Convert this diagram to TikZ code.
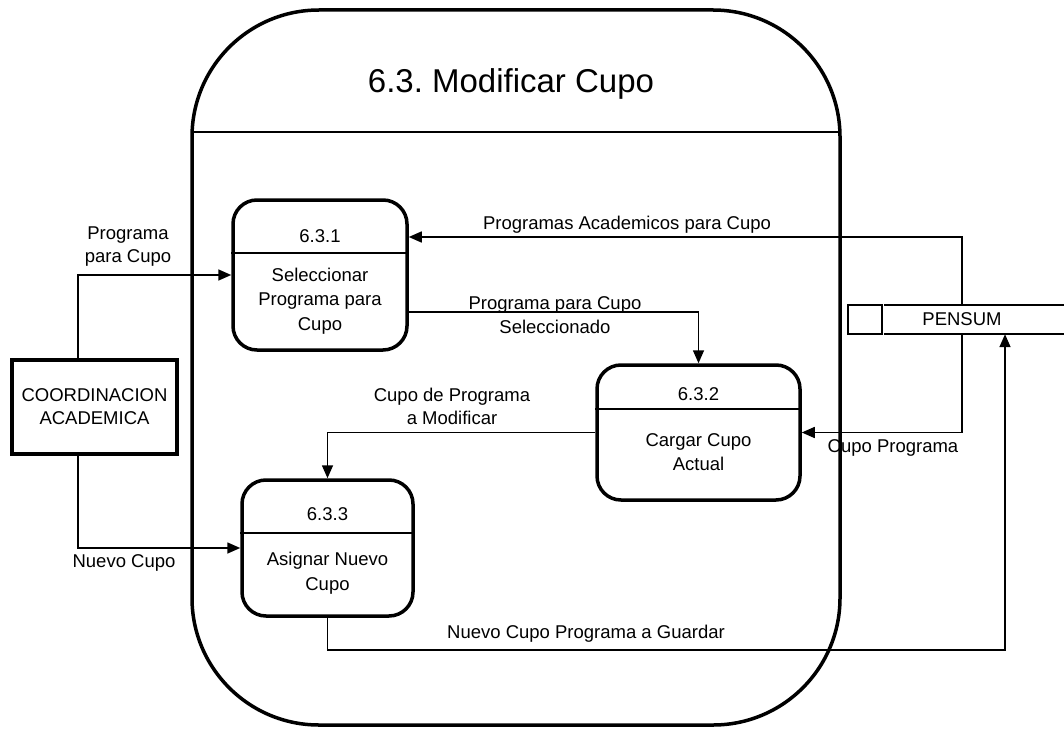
\documentclass[tikz,border=0pt]{standalone}
\usepackage{fontspec}
\setmainfont{Liberation Sans}
\usetikzlibrary{arrows.meta}
\frenchspacing
\tikzset{
  proc/.style={draw, line width=3.5pt, rounded corners=24pt, inner sep=0pt},
  ext/.style={draw, line width=3.5pt, inner sep=0pt, align=center, font=\fontsize{18.5}{23}\selectfont},
  lbl/.style={inner sep=0pt, align=center, font=\fontsize{18.5}{23.5}\selectfont},
  ptext/.style={inner sep=0pt, align=center, font=\fontsize{18.5}{24.5}\selectfont},
  flow/.style={line width=1.6pt, -{Triangle[length=13pt,width=11pt]}},
  thin/.style={line width=1.6pt},
  frame/.style={line width=3.5pt, rounded corners=127pt}
}
\begin{document}
\begin{tikzpicture}[x=1pt,y=-1pt]
\useasboundingbox[fill=white] (0,0) rectangle (1064,730);
% big process frame
\draw[frame] (192,10) rectangle (840,725);
\coordinate (tl) at (192,132);
\coordinate (tr) at (840,132);
\draw[thin] (tl) -- (tr);
\node[font=\fontsize{33}{38}\selectfont, inner sep=0pt] (title) at (511,84) {6.3. Modificar Cupo};

% processes
\node[proc, minimum width=174pt, minimum height=150pt] (p1) at (320,275) {};
\node[proc, minimum width=203pt, minimum height=135pt] (p2) at (698.5,432.5) {};
\node[proc, minimum width=171pt, minimum height=136pt] (p3) at (327.5,548) {};

\path (p1.north west) ++(0,54.75) coordinate (p1a);
\draw[thin] (p1a) -- (p1a -| p1.east);
\path (p2.north west) ++(0,45.75) coordinate (p2a);
\draw[thin] (p2a) -- (p2a -| p2.east);
\path (p3.north west) ++(0,54.75) coordinate (p3a);
\draw[thin] (p3a) -- (p3a -| p3.east);

\node[ptext] (p1n) at (320,236) {6.3.1};
\node[ptext] (p1t) at (320,301) {Seleccionar\\Programa para\\Cupo};
\node[ptext] (p2n) at (698.5,394) {6.3.2};
\node[ptext] (p2t) at (698.5,452) {Cargar Cupo\\Actual};
\node[ptext] (p3n) at (327.5,514) {6.3.3};
\node[ptext] (p3t) at (327.5,573) {Asignar Nuevo\\Cupo};

% external entity
\node[ext, minimum width=165pt, minimum height=94pt] (coord) at (94.5,407) {COORDINACION\\ACADEMICA};

% data store
\node[lbl, minimum height=29pt] (pensum) at (962,319.5) {PENSUM};
\node[draw, thin, minimum width=34pt, minimum height=29pt, inner sep=0pt] (pbox) at (865,319.5) {};
\coordinate (st1) at (884,305);
\coordinate (st2) at (1064,305);
\coordinate (sb1) at (884,334);
\coordinate (sb2) at (1064,334);
\draw[thin] (st1) -- (st2);
\draw[thin] (sb1) -- (sb2);

% flows
\draw[flow] ([xshift=-16.5pt]coord.north) |- (p1.west);
\draw[flow] ([xshift=-16.5pt]coord.south) |- (p3.west);
\draw[flow] ([yshift=-37pt]p1.east) -| (p2.north);
\draw[flow] (p2.west) -| (p3.north);
\draw[flow] (pensum.north) |- ([yshift=38pt]p1.east);
\draw[flow] (pensum.south) |- (p2.east);
\draw[flow] (p3.south) -- ++(0,32) -| ([xshift=43pt]pensum.south);

% flow labels
\node[lbl] (l1) at (128,246.5) {Programa\\para Cupo};
\node[lbl] (l2) at (627,225) {Programas Academicos para Cupo};
\node[lbl] (l3) at (555,315) {Programa para Cupo\\Seleccionado};
\node[lbl] (l4) at (452,406.5) {Cupo de Programa\\a Modificar};
\node[lbl] (l5) at (893,448) {Cupo Programa};
\node[lbl] (l6) at (124,563) {Nuevo Cupo};
\node[lbl] (l7) at (586,634) {Nuevo Cupo Programa a Guardar};
\end{tikzpicture}
\end{document}
